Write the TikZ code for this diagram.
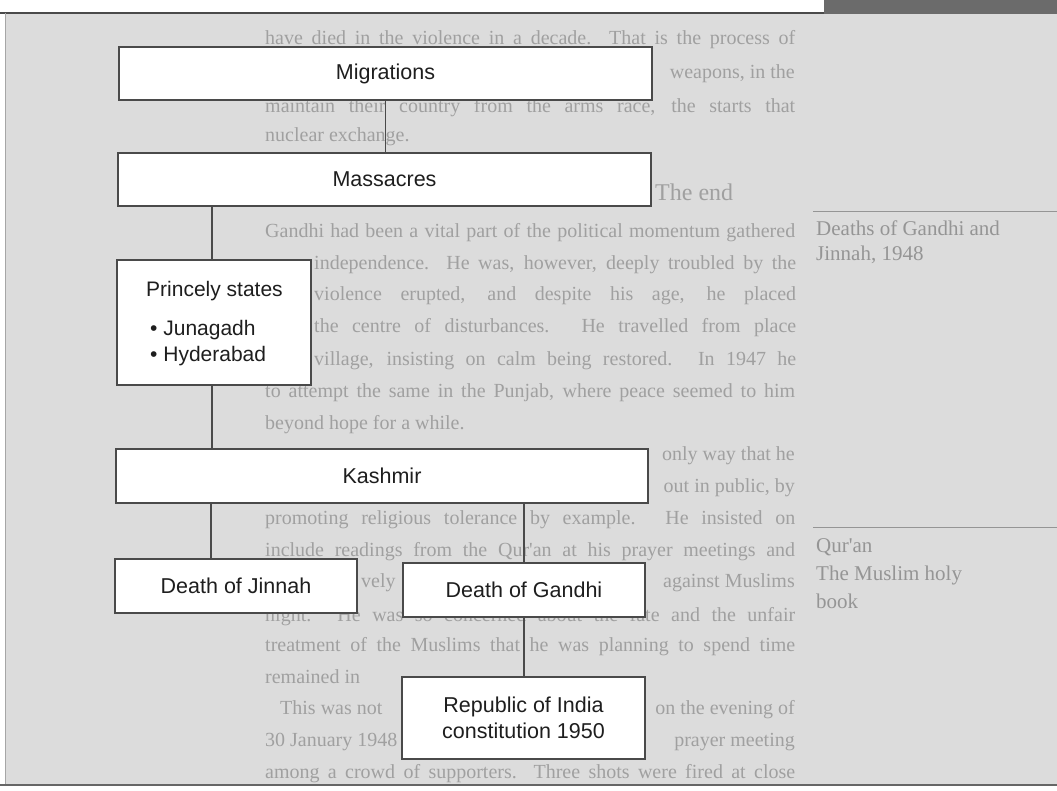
\documentclass[tikz,border=0pt]{standalone}
\usepackage{fontspec}
\setmainfont{Liberation Sans}
\newfontfamily\bleedfont{Liberation Serif}
\definecolor{panel}{HTML}{DCDCDC}
\definecolor{band}{HTML}{6B6B6B}
\definecolor{edge}{HTML}{4A4A4A}
\definecolor{ink}{HTML}{1E1E1E}
\definecolor{bleed}{HTML}{A0A0A0}
\definecolor{note}{HTML}{959595}
\tikzset{
  stepbox/.style={draw=edge, line width=1.3pt, fill=white, inner sep=0pt, text=ink,
    font=\fontsize{21.5}{26}\selectfont},
  link/.style={draw=edge, line width=1.2pt},
  btxt/.style={anchor=base west, inner sep=0pt, text=bleed, font=\bleedfont\fontsize{20}{24}\selectfont},
  rtxt/.style={btxt, anchor=base east},
  ntxt/.style={anchor=base west, inner sep=0pt, text=note, font=\bleedfont\fontsize{21}{25}\selectfont},
  lbl/.style={anchor=base west, inner sep=0pt, text=ink, font=\fontsize{21}{25}\selectfont}
}
\newcommand{\jline}[1]{\makebox[530pt][s]{#1}}
\newcommand{\kline}[1]{\makebox[482pt][s]{#1}}
\begin{document}
\begin{tikzpicture}[x=1pt,y=-1pt]
\useasboundingbox (0,0) rectangle (1057,791);
% page
\fill[white] (0,0) rectangle (1057,791);
\fill[panel] (5,13) rectangle (1057,785);
\fill[band] (824,0) rectangle (1057,14);
\draw[edge, line width=2pt] (0,13) -- (824,13);
\draw[gray!70, line width=1pt] (5,13) -- (5,785);
\draw[gray!80!black, line width=1.5pt] (0,785) -- (1057,785);
% faint text of the page behind the diagram (visible parts only)
\node[btxt] (t01) at (265,45)  {\jline{have died in the violence in a decade. That is the process of}};
\node[rtxt] (t02) at (795,79)  {weapons, in the};
\node[btxt] (t03) at (265,113) {\jline{maintain their country from the arms race, the starts that}};
\node[btxt] (t04) at (265,142) {nuclear exchange.};
\node[anchor=base west, inner sep=0pt, text=bleed, font=\bleedfont\fontsize{24}{28}\selectfont] (th) at (655,201) {The end};
\node[btxt] (t05) at (265,238) {\jline{Gandhi had been a vital part of the political momentum gathered}};
\node[btxt] (t06) at (314,270) {\kline{independence. He was, however, deeply troubled by the}};
\node[btxt] (t07) at (314,301) {\kline{violence erupted, and despite his age, he placed}};
\node[btxt] (t08) at (314,333) {\kline{the centre of disturbances. He travelled from place}};
\node[btxt] (t09) at (314,365) {\kline{village, insisting on calm being restored. In 1947 he}};
\node[btxt] (t10) at (265,397) {\jline{to attempt the same in the Punjab, where peace seemed to him}};
\node[btxt] (t11) at (265,429) {beyond hope for a while.};
\node[rtxt] (t12) at (795,460) {only way that he};
\node[rtxt] (t13) at (795,492) {out in public, by};
\node[btxt] (t14) at (265,524) {\jline{promoting religious tolerance by example. He insisted on}};
\node[btxt] (t15) at (265,556) {\jline{include readings from the Qur'an at his prayer meetings and}};
\node[btxt] (t16a) at (361,587) {vely};
\node[rtxt] (t16b) at (795,587) {against Muslims};
\node[btxt] (t17) at (265,621) {\jline{night. He was so concerned about the fate and the unfair}};
\node[btxt] (t18) at (265,651) {\jline{treatment of the Muslims that he was planning to spend time}};
\node[btxt] (t19) at (265,683) {remained in};
\node[btxt] (t20a) at (280,714) {This was not};
\node[rtxt] (t20b) at (795,714) {on the evening of};
\node[btxt] (t21a) at (265,746) {30 January 1948};
\node[rtxt] (t21b) at (795,746) {prayer meeting};
\node[btxt] (t22) at (265,778) {\jline{among a crowd of supporters. Three shots were fired at close}};
% margin notes
\draw[note, line width=1pt] (813,212) -- (1057,212);
\node[ntxt] (n1) at (816,236) {Deaths of Gandhi and};
\node[ntxt] (n2) at (816,261) {Jinnah, 1948};
\draw[note, line width=1pt] (813,527) -- (1057,527);
\node[ntxt] (n3) at (816,552) {Qur'an};
\node[ntxt] (n4) at (816,580) {The Muslim holy};
\node[ntxt] (n5) at (816,608) {book};
% diagram
\node[stepbox, minimum width=533pt, minimum height=53pt] (mig) at (385.5,73.5) {Migrations};
\node[stepbox, minimum width=533pt, minimum height=53pt] (mas) at (384.5,179.5) {Massacres};
\node[stepbox, minimum width=194pt, minimum height=125pt] (pr) at (214,322.5) {};
\node[lbl] (prt) at (146,297) {Princely states};
\node[lbl] (pb1) at (150,336) {\textbullet\ Junagadh};
\node[lbl] (pb2) at (150,361) {\textbullet\ Hyderabad};
\node[stepbox, minimum width=532pt, minimum height=54pt] (ka) at (382,476) {Kashmir};
\node[stepbox, minimum width=242pt, minimum height=54pt] (ji) at (236,586) {Death of Jinnah};
\node[stepbox, minimum width=242pt, minimum height=54pt] (ga) at (524,590) {Death of Gandhi};
\node[stepbox, minimum width=243pt, minimum height=82pt, align=center] (re) at (523.5,718) {Republic of India\\constitution 1950};
% connectors
\draw[link] (mig.south) -- (mig.south |- mas.north);
\draw[link] ([xshift=-2pt]pr.north |- mas.south) -- ([xshift=-2pt]pr.north);
\draw[link] ([xshift=-2pt]pr.south) -- ([xshift=-2pt]pr.south |- ka.north);
\draw[link] ([xshift=-25pt]ji.north |- ka.south) -- ([xshift=-25pt]ji.north);
\draw[link] (ga.north |- ka.south) -- (ga.north);
\draw[link] (ga.south) -- (ga.south |- re.north);
\end{tikzpicture}
\end{document}
